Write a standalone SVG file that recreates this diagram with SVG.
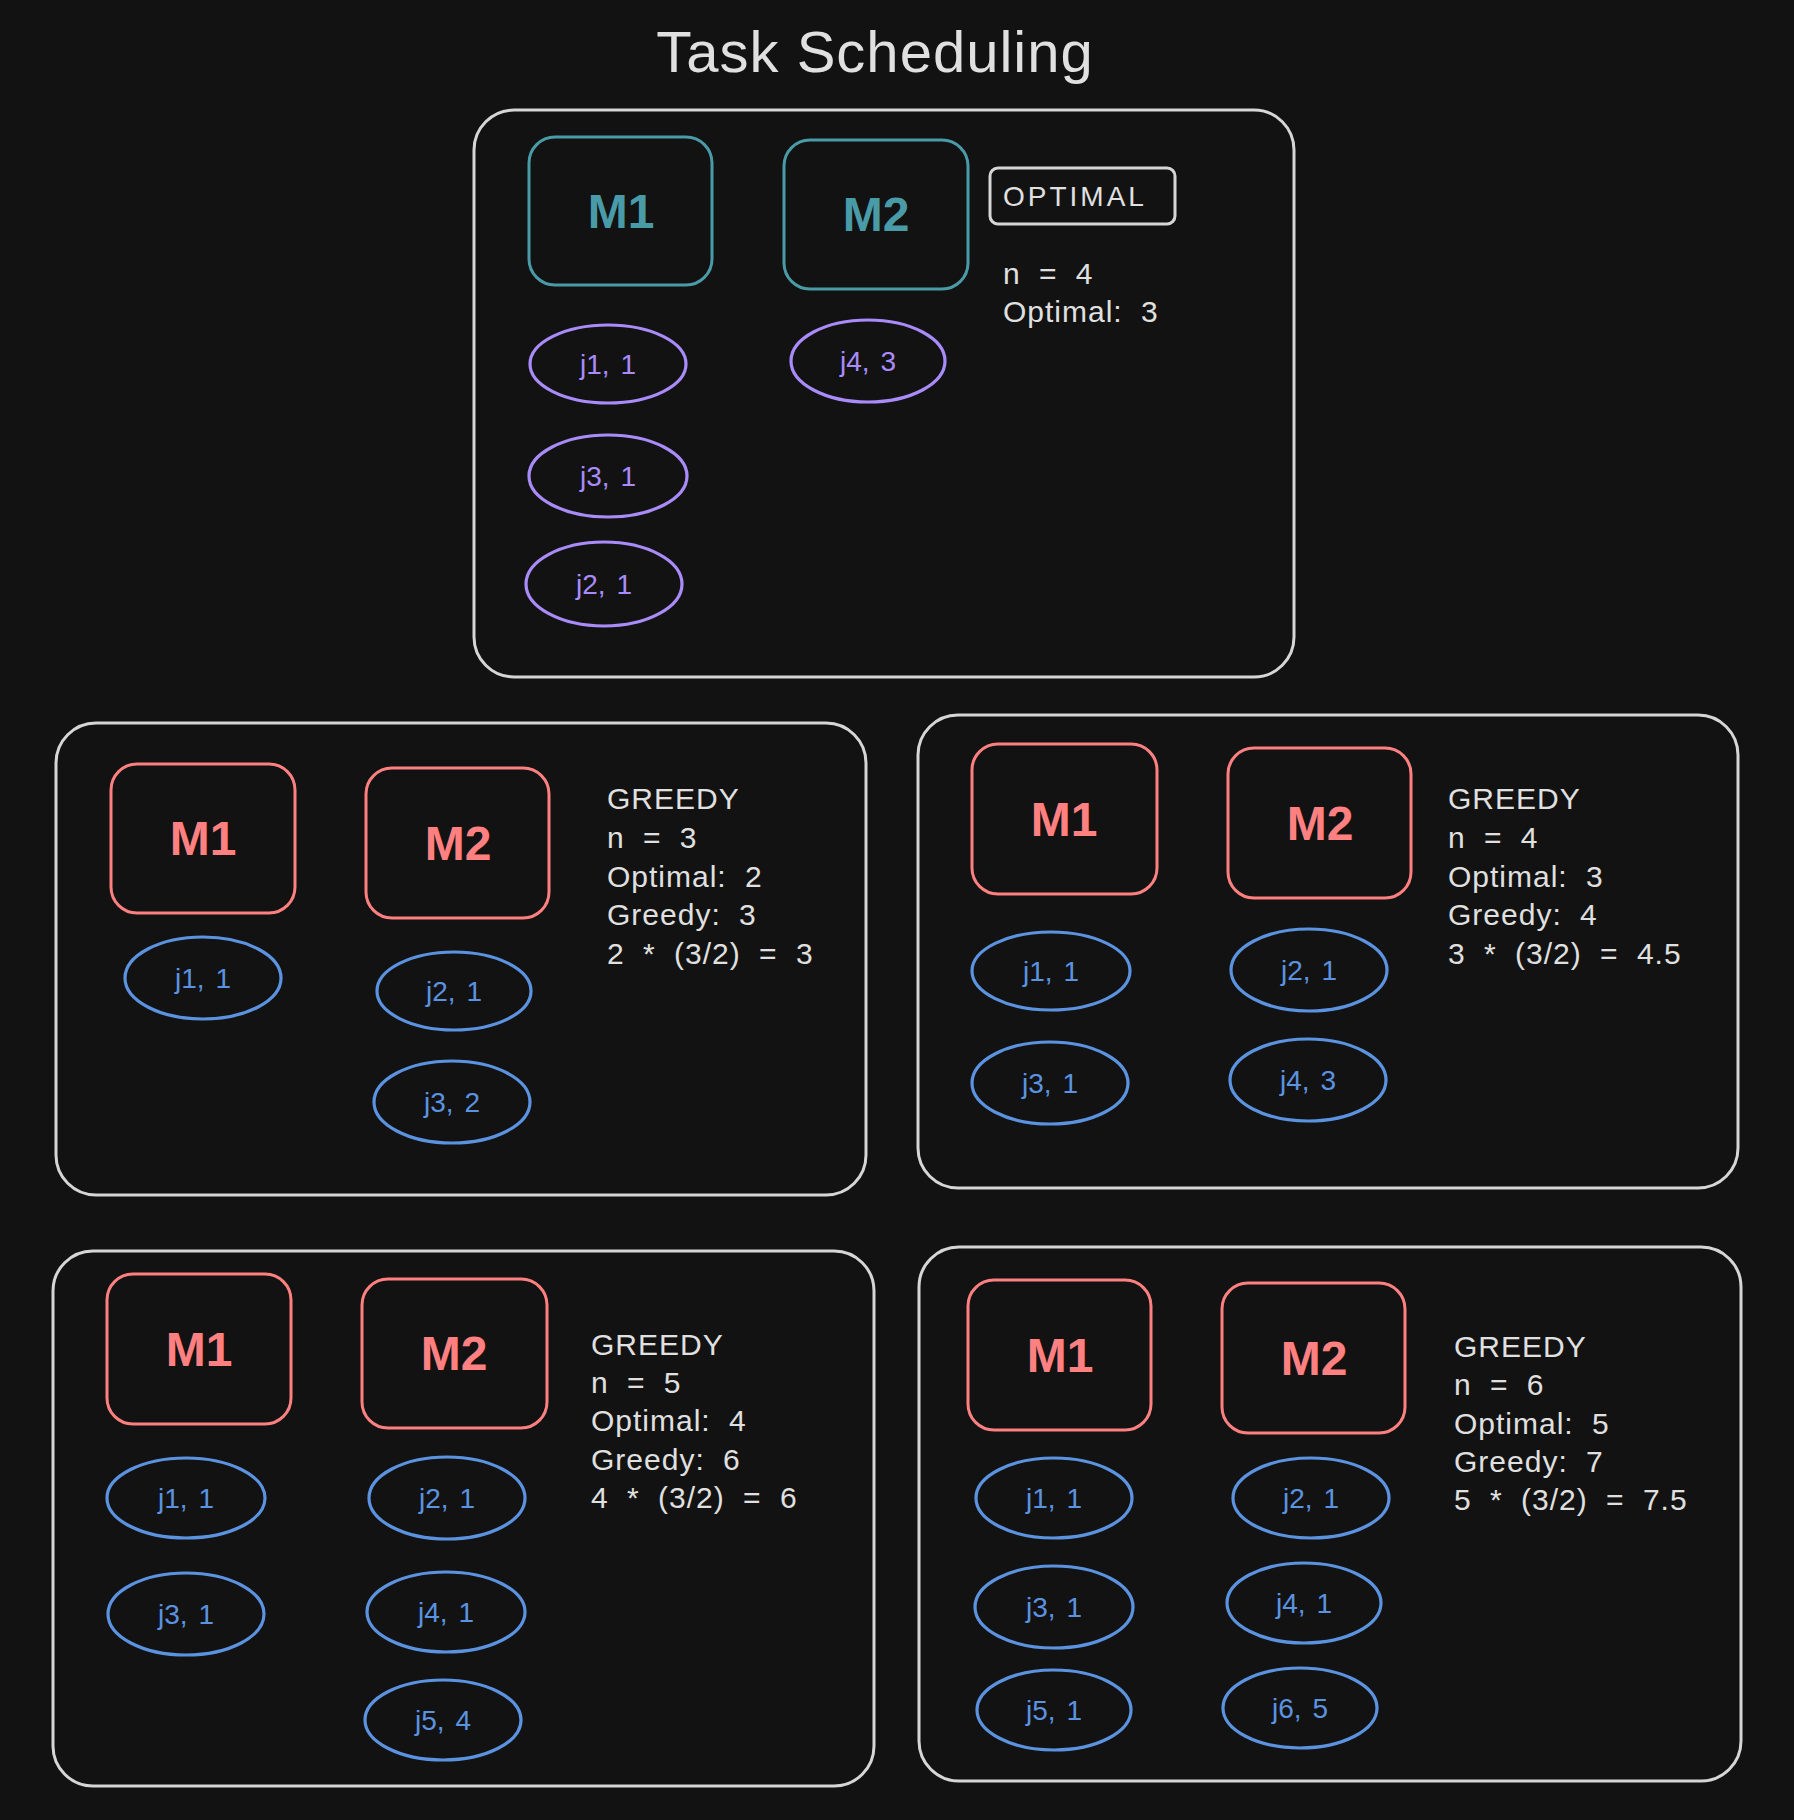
<svg xmlns="http://www.w3.org/2000/svg" width="1794" height="1820" viewBox="0 0 1794 1820">
<style>
.bg{fill:#121212}
.panel{fill:none;stroke:#d6d6d6;stroke-width:3}
.mt{fill:none;stroke:#4a9ba8;stroke-width:3}
.mr{fill:none;stroke:#ff8080;stroke-width:3}
.jp{fill:none;stroke:#a98bfa;stroke-width:3.2}
.jb{fill:none;stroke:#5b93e0;stroke-width:3.2}
text{font-family:"Liberation Sans","Noto Sans",sans-serif}
.title{fill:#e0e0e0;font-size:58px;text-anchor:middle;letter-spacing:1px}
.mlt{fill:#4a9ba8;font-size:48px;text-anchor:middle;font-weight:bold}
.mlr{fill:#ff8080;font-size:48px;text-anchor:middle;font-weight:bold}
.jlp{fill:#a98bfa;font-size:28px;text-anchor:middle;word-spacing:3px}
.jlb{fill:#5b93e0;font-size:28px;text-anchor:middle;word-spacing:3px}
.note{fill:#e0e0e0;font-size:30px;letter-spacing:1px;word-spacing:9px}
.tag{fill:#e0e0e0;font-size:28px;letter-spacing:3px}
</style>
<rect class="bg" x="0" y="0" width="1794" height="1820"/>
<text class="title" x="875" y="72">Task Scheduling</text>

<g id="connectors"></g>

<!-- Top: optimal -->
<g id="panel-optimal">
<rect class="panel" x="474" y="110" width="820" height="567" rx="40"/>
<g id="opt-m1"><rect class="mt" x="529" y="137" width="183" height="148" rx="26"/><text class="mlt" x="621" y="228">M1</text></g>
<g id="opt-m2"><rect class="mt" x="784" y="140" width="184" height="149" rx="26"/><text class="mlt" x="876" y="231">M2</text></g>
<g id="opt-tag"><rect class="panel" x="990" y="168" width="185" height="56" rx="8"/><text class="tag" x="1003" y="206">OPTIMAL</text></g>
<g id="opt-info"><text class="note" x="1003" y="284">n = 4</text><text class="note" x="1003" y="322">Optimal: 3</text></g>
<g id="opt-j1"><ellipse class="jp" cx="608" cy="364" rx="78" ry="39"/><text class="jlp" x="608" y="374">j1, 1</text></g>
<g id="opt-j4"><ellipse class="jp" cx="868" cy="361" rx="77" ry="41"/><text class="jlp" x="868" y="371">j4, 3</text></g>
<g id="opt-j3"><ellipse class="jp" cx="608" cy="476" rx="79" ry="41"/><text class="jlp" x="608" y="486">j3, 1</text></g>
<g id="opt-j2"><ellipse class="jp" cx="604" cy="584" rx="78" ry="42"/><text class="jlp" x="604" y="594">j2, 1</text></g>
</g>

<!-- Middle left: greedy n=3 -->
<g id="panel-g3">
<rect class="panel" x="56" y="723" width="810" height="472" rx="40"/>
<g id="g3-m1"><rect class="mr" x="111" y="764" width="184" height="149" rx="26"/><text class="mlr" x="203" y="855">M1</text></g>
<g id="g3-m2"><rect class="mr" x="366" y="768" width="183" height="150" rx="26"/><text class="mlr" x="458" y="860">M2</text></g>
<g id="g3-info"><text class="note" x="607" y="809">GREEDY</text><text class="note" x="607" y="848">n = 3</text><text class="note" x="607" y="887">Optimal: 2</text><text class="note" x="607" y="925">Greedy: 3</text><text class="note" x="607" y="964">2 * (3/2) = 3</text></g>
<g id="g3-j1"><ellipse class="jb" cx="203" cy="978" rx="78" ry="41"/><text class="jlb" x="203" y="988">j1, 1</text></g>
<g id="g3-j2"><ellipse class="jb" cx="454" cy="991" rx="77" ry="39"/><text class="jlb" x="454" y="1001">j2, 1</text></g>
<g id="g3-j3"><ellipse class="jb" cx="452" cy="1102" rx="78" ry="41"/><text class="jlb" x="452" y="1112">j3, 2</text></g>
</g>

<!-- Middle right: greedy n=4 -->
<g id="panel-g4">
<rect class="panel" x="918" y="715" width="820" height="473" rx="40"/>
<g id="g4-m1"><rect class="mr" x="972" y="744" width="185" height="150" rx="26"/><text class="mlr" x="1064" y="836">M1</text></g>
<g id="g4-m2"><rect class="mr" x="1228" y="748" width="183" height="150" rx="26"/><text class="mlr" x="1320" y="840">M2</text></g>
<g id="g4-info"><text class="note" x="1448" y="809">GREEDY</text><text class="note" x="1448" y="848">n = 4</text><text class="note" x="1448" y="887">Optimal: 3</text><text class="note" x="1448" y="925">Greedy: 4</text><text class="note" x="1448" y="964">3 * (3/2) = 4.5</text></g>
<g id="g4-j1"><ellipse class="jb" cx="1051" cy="971" rx="79" ry="39"/><text class="jlb" x="1051" y="981">j1, 1</text></g>
<g id="g4-j2"><ellipse class="jb" cx="1309" cy="970" rx="78" ry="41"/><text class="jlb" x="1309" y="980">j2, 1</text></g>
<g id="g4-j3"><ellipse class="jb" cx="1050" cy="1083" rx="78" ry="41"/><text class="jlb" x="1050" y="1093">j3, 1</text></g>
<g id="g4-j4"><ellipse class="jb" cx="1308" cy="1080" rx="78" ry="41"/><text class="jlb" x="1308" y="1090">j4, 3</text></g>
</g>

<!-- Bottom left: greedy n=5 -->
<g id="panel-g5">
<rect class="panel" x="53" y="1251" width="821" height="535" rx="40"/>
<g id="g5-m1"><rect class="mr" x="107" y="1274" width="184" height="150" rx="26"/><text class="mlr" x="199" y="1366">M1</text></g>
<g id="g5-m2"><rect class="mr" x="362" y="1279" width="185" height="149" rx="26"/><text class="mlr" x="454" y="1370">M2</text></g>
<g id="g5-info"><text class="note" x="591" y="1355">GREEDY</text><text class="note" x="591" y="1393">n = 5</text><text class="note" x="591" y="1431">Optimal: 4</text><text class="note" x="591" y="1470">Greedy: 6</text><text class="note" x="591" y="1508">4 * (3/2) = 6</text></g>
<g id="g5-j1"><ellipse class="jb" cx="186" cy="1498" rx="79" ry="40"/><text class="jlb" x="186" y="1508">j1, 1</text></g>
<g id="g5-j3"><ellipse class="jb" cx="186" cy="1614" rx="78" ry="41"/><text class="jlb" x="186" y="1624">j3, 1</text></g>
<g id="g5-j2"><ellipse class="jb" cx="447" cy="1498" rx="78" ry="41"/><text class="jlb" x="447" y="1508">j2, 1</text></g>
<g id="g5-j4"><ellipse class="jb" cx="446" cy="1612" rx="79" ry="40"/><text class="jlb" x="446" y="1622">j4, 1</text></g>
<g id="g5-j5"><ellipse class="jb" cx="443" cy="1720" rx="78" ry="40"/><text class="jlb" x="443" y="1730">j5, 4</text></g>
</g>

<!-- Bottom right: greedy n=6 -->
<g id="panel-g6">
<rect class="panel" x="919" y="1247" width="822" height="534" rx="40"/>
<g id="g6-m1"><rect class="mr" x="968" y="1280" width="183" height="150" rx="26"/><text class="mlr" x="1060" y="1372">M1</text></g>
<g id="g6-m2"><rect class="mr" x="1222" y="1283" width="183" height="150" rx="26"/><text class="mlr" x="1314" y="1375">M2</text></g>
<g id="g6-info"><text class="note" x="1454" y="1357">GREEDY</text><text class="note" x="1454" y="1395">n = 6</text><text class="note" x="1454" y="1434">Optimal: 5</text><text class="note" x="1454" y="1472">Greedy: 7</text><text class="note" x="1454" y="1510">5 * (3/2) = 7.5</text></g>
<g id="g6-j1"><ellipse class="jb" cx="1054" cy="1498" rx="78" ry="40"/><text class="jlb" x="1054" y="1508">j1, 1</text></g>
<g id="g6-j2"><ellipse class="jb" cx="1311" cy="1498" rx="78" ry="40"/><text class="jlb" x="1311" y="1508">j2, 1</text></g>
<g id="g6-j3"><ellipse class="jb" cx="1054" cy="1607" rx="79" ry="41"/><text class="jlb" x="1054" y="1617">j3, 1</text></g>
<g id="g6-j4"><ellipse class="jb" cx="1304" cy="1603" rx="77" ry="40"/><text class="jlb" x="1304" y="1613">j4, 1</text></g>
<g id="g6-j5"><ellipse class="jb" cx="1054" cy="1710" rx="77" ry="40"/><text class="jlb" x="1054" y="1720">j5, 1</text></g>
<g id="g6-j6"><ellipse class="jb" cx="1300" cy="1708" rx="77" ry="40"/><text class="jlb" x="1300" y="1718">j6, 5</text></g>
</g>
</svg>
